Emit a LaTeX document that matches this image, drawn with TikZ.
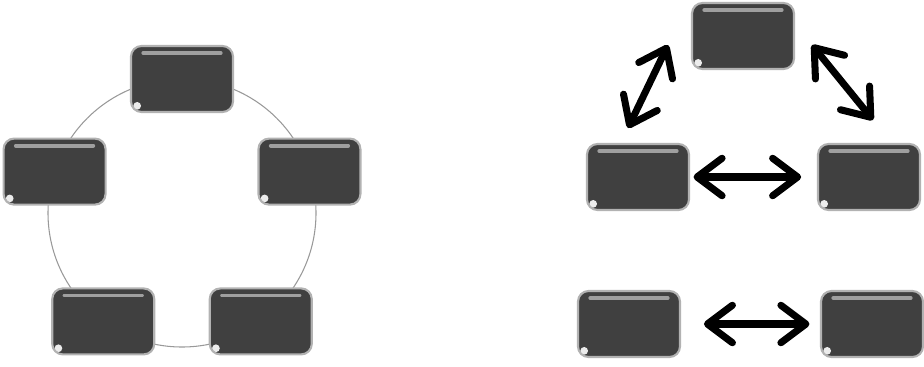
\documentclass[tikz,border=0pt]{standalone}
\usepackage{xcolor}
\usetikzlibrary{arrows.meta}

\definecolor{tilegray}{RGB}{64,64,64}
\tikzset{
  tile/.style={draw=gray!60, line width=1.2pt, fill=tilegray, rounded corners=6pt,
    minimum width=2.04cm, minimum height=1.32cm, inner sep=0pt,
    path picture={
      \draw[gray!75, line width=2.2pt, line cap=round]
        ([xshift=7pt,yshift=-4pt]path picture bounding box.north west) --
        ([xshift=-7pt,yshift=-4pt]path picture bounding box.north east);
      \fill[white!85!gray] ([xshift=3.5pt,yshift=3.5pt]path picture bounding box.south west) circle (2.2pt);}},
  dbl/.style={line width=4pt, line cap=round,
    {Straight Barb[round,length=5mm,width=7.5mm]}-{Straight Barb[round,length=5mm,width=7.5mm]}}
}

\begin{document}
\begin{tikzpicture}
  \useasboundingbox (0,0) rectangle (18.48,7.32);
  % ring
  \coordinate (o) at (3.64,3.06);
  \draw[gray!80, line width=0.6pt] (o) circle[radius=2.68cm];
  \foreach \a/\n in {90/t,162/l,234/bl,306/br,18/r}
    \node[tile] (\n) at ([shift={(\a:2.68)}]o) {};

  % triangle and pair
  \node[tile] (rt) at (14.86,6.60) {};
  \node[tile] (ml) at (12.76,3.78) {};
  \node[tile] (mr) at (17.38,3.78) {};
  \node[tile] (pl) at (12.58,0.84) {};
  \node[tile] (pr) at (17.44,0.84) {};

  \coordinate (ua) at (12.56,4.76);
  \coordinate (ub) at (13.36,6.42);
  \coordinate (va) at (16.24,6.42);
  \coordinate (vb) at (17.46,4.92);
  \draw[dbl] (ua) -- (ub);
  \draw[dbl] (va) -- (vb);
  \draw[dbl, shorten <=2pt, shorten >=9pt] (ml.east) -- (mr.west);
  \draw[dbl, shorten <=13pt, shorten >=6pt] (pl.east) -- (pr.west);
\end{tikzpicture}
\end{document}
